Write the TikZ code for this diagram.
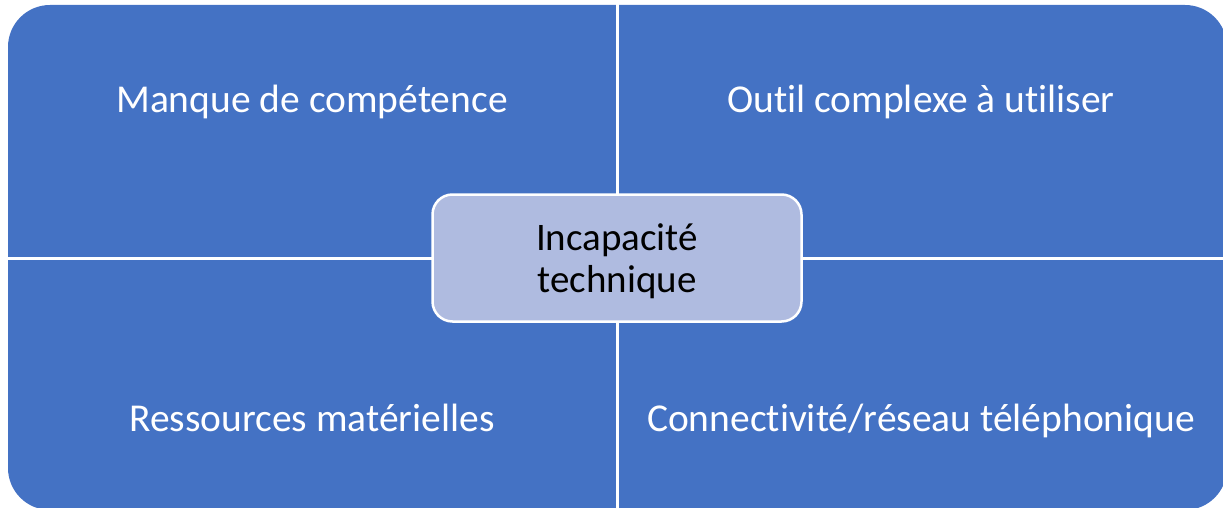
\documentclass[tikz,border=0pt]{standalone}
\usepackage{fontspec}
\setmainfont{Carlito}[Ligatures=NoCommon]
\definecolor{quadblue}{HTML}{4472C4}
\definecolor{centerfill}{HTML}{AFBBE0}
\begin{document}
\begin{tikzpicture}[x=1pt,y=-1pt,
  quadtext/.style={text=white,font=\fontsize{39.5}{46}\selectfont,inner sep=0pt,anchor=base},
  centerbox/.style={draw=white,line width=2.5pt,fill=centerfill,rounded corners=20pt,
    minimum width=369pt,minimum height=127pt,align=center,font=\fontsize{39}{42}\selectfont,text=black}]
\useasboundingbox (0,0) rectangle (1223,508);
\begin{scope}
\clip (0,0) rectangle (1223,508);
\fill[quadblue,rounded corners=42pt] (8,5) rectangle (1227,510);
\draw[white,line width=3pt] (617,0) -- (617,508);
\draw[white,line width=3pt] (0,258) -- (1223,258);
\end{scope}
\node[quadtext] (tl) at (312,113) {Manque de compétence};
\node[quadtext] (tr) at (921,113) {Outil complexe à utiliser};
\node[quadtext] (bl) at (312,431) {Ressources matérielles};
\node[quadtext] (br) at (921,431) {Connectivité/réseau téléphonique};
\node[centerbox] (c) at (617,258) {};
\node[align=center,font=\fontsize{39}{42}\selectfont,text=black] (ct) at (617,261) {Incapacité\\technique};
\end{tikzpicture}
\end{document}
